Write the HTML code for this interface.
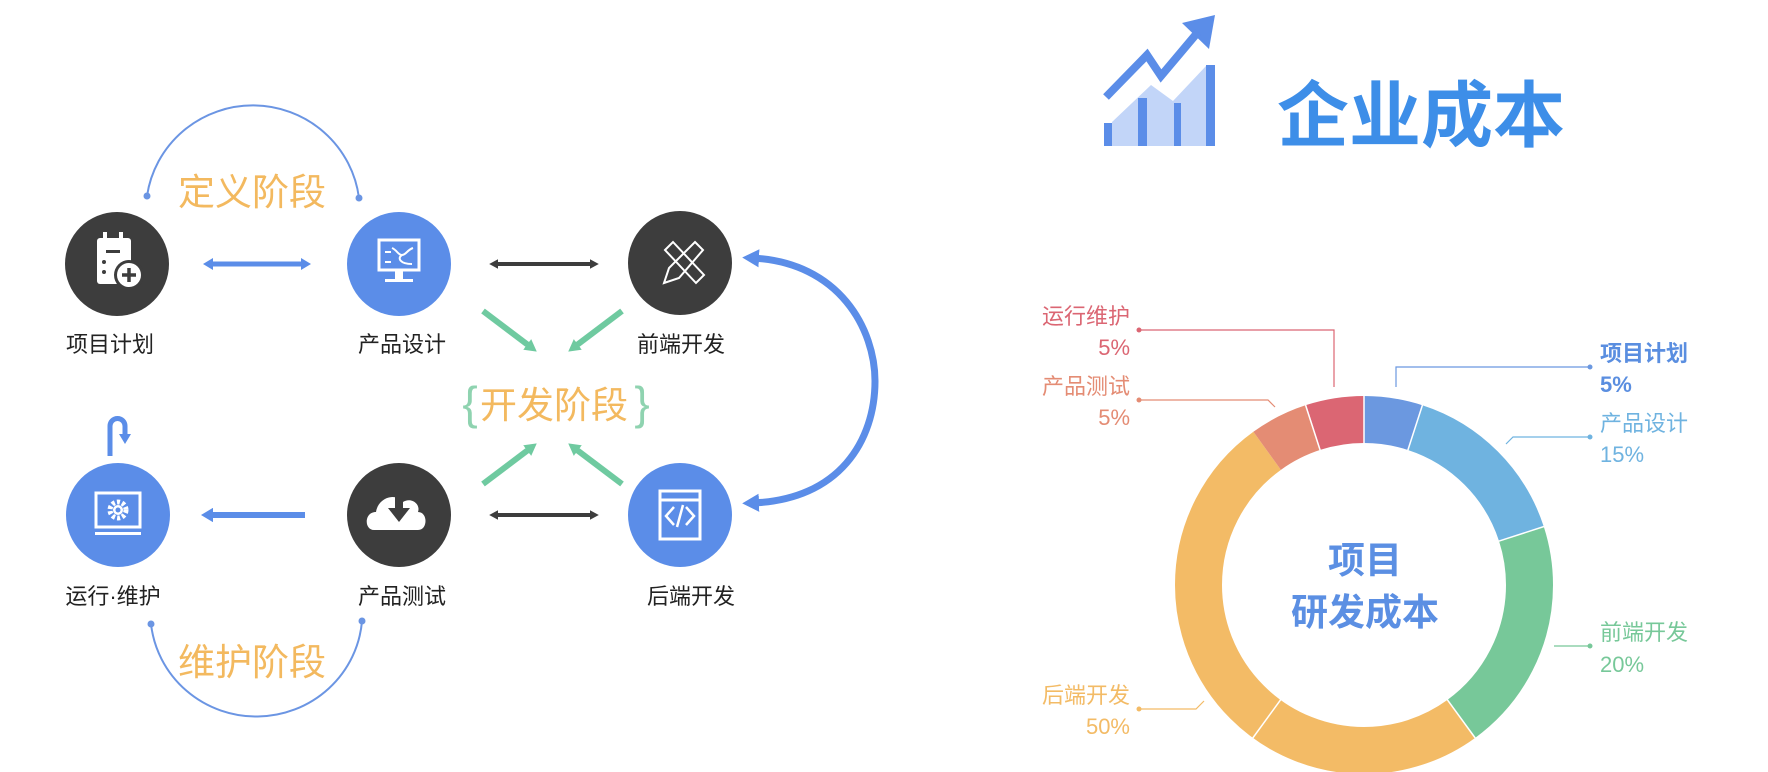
<!DOCTYPE html>
<html><head><meta charset="utf-8"><style>
html,body{margin:0;padding:0;background:#fff;}
svg{display:block;}
text{font-family:"Liberation Sans","Noto Sans CJK SC",sans-serif;}
</style></head><body>
<svg width="1768" height="772" viewBox="0 0 1768 772" xmlns="http://www.w3.org/2000/svg">
<defs>
<marker id="bh" markerWidth="2" markerHeight="2.4" refX="1" refY="1.2" orient="auto-start-reverse" markerUnits="strokeWidth"><path d="M0,0 L2,1.2 L0,2.4 Z" fill="#5b8de8"/></marker>
<marker id="kh" markerWidth="2.2" markerHeight="2.4" refX="1" refY="1.2" orient="auto-start-reverse" markerUnits="strokeWidth"><path d="M0,0 L2.2,1.2 L0,2.4 Z" fill="#3d3d3d"/></marker>
<marker id="gh" markerWidth="2" markerHeight="2.2" refX="1" refY="1.1" orient="auto" markerUnits="strokeWidth"><path d="M0,0 L2,1.1 L0,2.2 Z" fill="#6fcaa0"/></marker>
<marker id="bh2" markerWidth="2.4" markerHeight="2.6" refX="1" refY="1.3" orient="auto-start-reverse" markerUnits="strokeWidth"><path d="M0,0 L2.4,1.3 L0,2.6 Z" fill="#5b8de8"/></marker>
</defs>

<path d="M147,196 A107,106 0 0 1 359,198" fill="none" stroke="#6b95e3" stroke-width="2"/>
<circle cx="147" cy="196" r="3.5" fill="#6b95e3"/><circle cx="359" cy="198" r="3.5" fill="#6b95e3"/>
<path d="M151,624 A106,104 0 0 0 362,621" fill="none" stroke="#6b95e3" stroke-width="2"/>
<circle cx="151" cy="624" r="3.5" fill="#6b95e3"/><circle cx="362" cy="621" r="3.5" fill="#6b95e3"/>

<text x="252" y="205" font-size="37" fill="#f3b95f" text-anchor="middle">定义阶段</text>
<text x="252" y="675" font-size="37" fill="#f3b95f" text-anchor="middle">维护阶段</text>
<text x="554" y="418" font-size="37" fill="#f3b95f" text-anchor="middle">开发阶段</text>
<text x="470" y="419" font-size="46" fill="#8fd3b0" text-anchor="middle" font-family="DejaVu Sans">{</text>
<text x="642" y="419" font-size="46" fill="#8fd3b0" text-anchor="middle" font-family="DejaVu Sans">}</text>

<line x1="208" y1="264" x2="306" y2="264" stroke="#5b8de8" stroke-width="5" marker-start="url(#bh)" marker-end="url(#bh)"/>
<line x1="494" y1="264" x2="594" y2="264" stroke="#3d3d3d" stroke-width="4" marker-start="url(#kh)" marker-end="url(#kh)"/>
<line x1="207" y1="515" x2="305" y2="515" stroke="#5b8de8" stroke-width="6" marker-start="url(#bh)"/>
<line x1="494" y1="515" x2="594" y2="515" stroke="#3d3d3d" stroke-width="4" marker-start="url(#kh)" marker-end="url(#kh)"/>

<line x1="483" y1="311" x2="532" y2="348" stroke="#6fcaa0" stroke-width="6" marker-end="url(#gh)"/>
<line x1="622" y1="311" x2="573" y2="348" stroke="#6fcaa0" stroke-width="6" marker-end="url(#gh)"/>
<line x1="483" y1="484" x2="532" y2="447" stroke="#6fcaa0" stroke-width="6" marker-end="url(#gh)"/>
<line x1="622" y1="484" x2="573" y2="447" stroke="#6fcaa0" stroke-width="6" marker-end="url(#gh)"/>

<path d="M752,258 C840,262 875,330 875,381 C875,440 840,500 752,503" fill="none" stroke="#5b8de8" stroke-width="7" marker-start="url(#bh2)" marker-end="url(#bh2)"/>

<path d="M110,456 L110,426 A7.5,7.5 0 0 1 125,426 L125,434" fill="none" stroke="#5b8de8" stroke-width="5"/>
<path d="M119,434 L131,434 L125,444 Z" fill="#5b8de8"/>

<circle cx="117" cy="264" r="52" fill="#3d3d3d"/>
<g fill="#fff">
<rect x="97" y="238" width="34" height="46" rx="3"/>
<rect x="103" y="232" width="4" height="10"/><rect x="119" y="232" width="4" height="10"/>
</g>
<rect x="106" y="250" width="14" height="3" fill="#3d3d3d"/>
<circle cx="104" cy="262" r="2" fill="#3d3d3d"/><circle cx="104" cy="272" r="2" fill="#3d3d3d"/>
<circle cx="129" cy="275" r="15" fill="#3d3d3d"/><circle cx="129" cy="275" r="12" fill="#fff"/>
<path d="M129,268 V282 M122,275 H136" stroke="#3d3d3d" stroke-width="3.5"/>

<circle cx="399" cy="264" r="52" fill="#5b8de8"/>
<rect x="379" y="240" width="40" height="30" fill="none" stroke="#fff" stroke-width="3"/>
<path d="M385,252 L391,252 M385,262 L391,262 M392,248 C397,250 398,255 402,255 C406,255 407,250 413,248 M402,255 C397,258 400,264 412,264" fill="none" stroke="#fff" stroke-width="2"/>
<rect x="395" y="271" width="8" height="8" fill="#fff"/><rect x="385" y="279" width="28" height="3" fill="#fff"/>

<circle cx="680" cy="263" r="52" fill="#3d3d3d"/>
<g fill="none" stroke="#fff" stroke-width="2">
<path d="M665,250 L673,242 L704,275 L696,283 Z"/>
<path d="M695,242 L703,250 L679,278 L664,283 L669,268 Z"/>
</g>

<circle cx="118" cy="515" r="52" fill="#5b8de8"/>
<rect x="96" y="493" width="44" height="34" fill="none" stroke="#fff" stroke-width="3"/>
<rect x="95" y="532" width="46" height="3" fill="#fff"/>
<circle cx="118" cy="510" r="8" fill="none" stroke="#fff" stroke-width="5" stroke-dasharray="3 2.2"/>
<circle cx="118" cy="510" r="5" fill="#fff"/><circle cx="118" cy="510" r="2.5" fill="#5b8de8"/>

<circle cx="399" cy="515" r="52" fill="#3d3d3d"/>
<path d="M374,530 C364,530 364,512 376,512 C378,498 395,492 403,502 C410,497 421,503 418,512 C428,512 428,530 418,530 Z" fill="#fff"/>
<rect x="395" y="494" width="8" height="16" fill="#3d3d3d"/>
<path d="M388,508 L410,508 L399,522 Z" fill="#3d3d3d"/>

<circle cx="680" cy="515" r="52" fill="#5b8de8"/>
<rect x="660" y="491" width="40" height="48" fill="none" stroke="#fff" stroke-width="3"/>
<line x1="660" y1="500" x2="700" y2="500" stroke="#fff" stroke-width="3"/>
<path d="M674,507 L666,516 L674,525 M686,507 L694,516 L686,525 M683,505 L677,527" fill="none" stroke="#fff" stroke-width="2.5"/>

<g font-size="22" fill="#222">
<text x="110" y="352" text-anchor="middle">项目计划</text>
<text x="402" y="352" text-anchor="middle">产品设计</text>
<text x="681" y="352" text-anchor="middle">前端开发</text>
<text x="113" y="604" text-anchor="middle">运行·维护</text>
<text x="402" y="604" text-anchor="middle">产品测试</text>
<text x="691" y="604" text-anchor="middle">后端开发</text>
</g>

<polygon points="1112,146 1112,122 1151,85 1173,101 1206,66 1215,66 1215,146" fill="#c2d5f8"/>
<g fill="#5b8de8">
<rect x="1104" y="123" width="8" height="23"/>
<rect x="1138" y="98" width="9" height="48"/>
<rect x="1174" y="103" width="7" height="43"/>
<rect x="1206" y="65" width="9" height="81"/>
<polygon points="1215,15 1182,23 1209,49"/>
</g>
<polyline points="1106,97 1147,55 1161,76 1198,32" fill="none" stroke="#5b8de8" stroke-width="8"/>
<text x="1421" y="141" font-size="72" font-weight="bold" fill="#3d8ee8" text-anchor="middle">企业成本</text>

<g fill="none" stroke-width="47" transform="rotate(-90 1364 585)">
<circle cx="1364" cy="585" r="165.5" stroke="#6b98e0" stroke-dasharray="52 1000" stroke-dashoffset="0"/>
<circle cx="1364" cy="585" r="165.5" stroke="#6fb3e0" stroke-dasharray="156 1000" stroke-dashoffset="-52"/>
<circle cx="1364" cy="585" r="165.5" stroke="#77c899" stroke-dasharray="208 1000" stroke-dashoffset="-208"/>
<circle cx="1364" cy="585" r="165.5" stroke="#f3bb66" stroke-dasharray="520 1000" stroke-dashoffset="-416"/>
<circle cx="1364" cy="585" r="165.5" stroke="#e48c74" stroke-dasharray="52 1000" stroke-dashoffset="-936"/>
<circle cx="1364" cy="585" r="165.5" stroke="#db6673" stroke-dasharray="53 1000" stroke-dashoffset="-988"/>
</g>
<g stroke="#fff" stroke-width="1.5">
<line x1="1364" y1="445" x2="1364" y2="392"/>
<line x1="1407.3" y1="451.9" x2="1423" y2="403.4"/>
<line x1="1497.1" y1="541.7" x2="1545.6" y2="526"/>
<line x1="1446.3" y1="698.3" x2="1476.3" y2="739.5"/>
<line x1="1281.7" y1="698.3" x2="1251.7" y2="739.5"/>
<line x1="1320.7" y1="451.9" x2="1305" y2="403.4"/>
</g>
<g font-size="37" font-weight="bold" fill="#5b8fe3" text-anchor="middle">
<text x="1365" y="573">项目</text>
<text x="1365" y="625">研发成本</text>
</g>

<g fill="none" stroke-width="1.2">
<polyline points="1590,367 1396,367 1396,387" stroke="#6b98e0"/>
<polyline points="1590,437 1513,437 1506,444" stroke="#6fb3e0"/>
<polyline points="1590,646 1554,646" stroke="#77c899"/>
<polyline points="1139,709 1196,709 1204,701" stroke="#f3bb66"/>
<polyline points="1139,400 1268,400 1275,407" stroke="#e48c74"/>
<polyline points="1139,330 1334,330 1334,387" stroke="#db6673"/>
</g>
<circle cx="1590" cy="367" r="2.5" fill="#6b98e0"/>
<circle cx="1590" cy="437" r="2.5" fill="#6fb3e0"/>
<circle cx="1590" cy="646" r="2.5" fill="#77c899"/>
<circle cx="1139" cy="709" r="2.5" fill="#f3bb66"/>
<circle cx="1139" cy="400" r="2.5" fill="#e48c74"/>
<circle cx="1139" cy="330" r="2.5" fill="#db6673"/>

<g font-size="22">
<text x="1600" y="361" fill="#5a8ee0" font-weight="bold">项目计划</text>
<text x="1600" y="392" fill="#5a8ee0" font-weight="bold">5%</text>
<text x="1600" y="431" fill="#6fb3e0">产品设计</text>
<text x="1600" y="462" fill="#6fb3e0">15%</text>
<text x="1600" y="640" fill="#77c899">前端开发</text>
<text x="1600" y="672" fill="#77c899">20%</text>
<g text-anchor="end">
<text x="1130" y="324" fill="#db6673">运行维护</text>
<text x="1130" y="355" fill="#db6673">5%</text>
<text x="1130" y="394" fill="#e48c74">产品测试</text>
<text x="1130" y="425" fill="#e48c74">5%</text>
<text x="1130" y="703" fill="#f3bb66">后端开发</text>
<text x="1130" y="734" fill="#f3bb66">50%</text>
</g>
</g>
</svg>
</body></html>
